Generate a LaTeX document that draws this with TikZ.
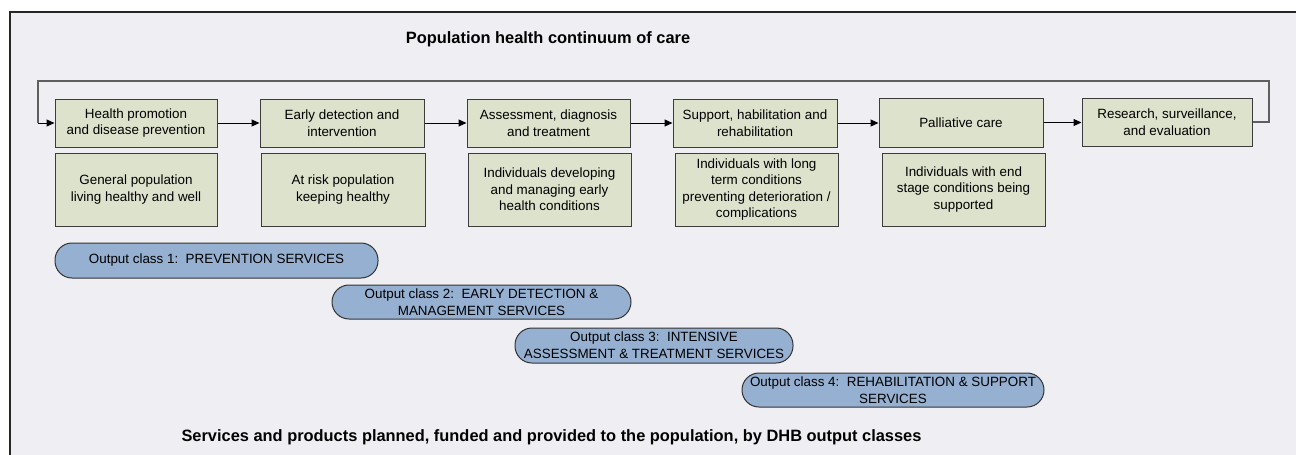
\documentclass[tikz,border=0pt]{standalone}
\usepackage{fontspec}
\setmainfont{Liberation Sans}
\usetikzlibrary{arrows.meta}
\definecolor{bgc}{RGB}{239,238,243}
\definecolor{boxfill}{RGB}{221,226,204}
\definecolor{boxline}{RGB}{60,60,60}
\definecolor{pillfill}{RGB}{149,176,208}
\definecolor{loopc}{RGB}{95,95,95}
\tikzset{
  stagebox/.style={draw=boxline, line width=1pt, fill=boxfill, inner sep=0pt, align=center,
    font=\fontsize{13.4}{16.6}\selectfont},
  pill/.style={draw=black!80, line width=1pt, fill=pillfill, inner sep=0pt, rounded corners=17pt, align=center,
    font=\fontsize{13.4}{16.6}\selectfont},
  heading/.style={font=\fontsize{16.4}{19}\selectfont\bfseries, inner sep=0pt},
  flow/.style={line width=1pt, -{Triangle[length=8pt,width=7pt]}},
  loopline/.style={draw=loopc, line width=1.3pt}
}
\begin{document}
\begin{tikzpicture}[x=1pt,y=-1pt]
\useasboundingbox (0,0) rectangle (1296,455);
\fill[bgc] (10,12) rectangle (1300,460);
\draw[line width=1.6pt, black!85] (10,460) -- (10,12) -- (1300,12);

\node[heading] (title) at (548,39) {Population health continuum of care};

% top row
\node[stagebox, minimum width=162pt, minimum height=48pt] (b1) at (136,123) {Health promotion\\and disease prevention};
\node[stagebox, minimum width=164pt, minimum height=48pt] (b2) at (342,123) {Early detection and\\intervention};
\node[stagebox, minimum width=163pt, minimum height=48pt] (b3) at (548.5,123) {Assessment, diagnosis\\and treatment};
\node[stagebox, minimum width=164pt, minimum height=48pt] (b4) at (755,123) {Support, habilitation and\\rehabilitation};
\node[stagebox, minimum width=164pt, minimum height=49pt] (b5) at (961,122.5) {Palliative care};
\node[stagebox, minimum width=170pt, minimum height=48pt] (b6) at (1167,122) {Research, surveillance,\\and evaluation};

% second row
\node[stagebox, minimum width=162pt, minimum height=73pt] (c1) at (136,189.5) {General population\\living healthy and well};
\node[stagebox, minimum width=164pt, minimum height=73pt] (c2) at (343,189.5) {At risk population\\keeping healthy};
\node[stagebox, minimum width=163pt, minimum height=73pt] (c3) at (549.5,189.5) {Individuals developing\\and managing early\\health conditions};
\node[stagebox, minimum width=163pt, minimum height=73pt] (c4) at (756.5,189.5) {Individuals with long\\term conditions\\preventing deterioration /\\complications};
\node[stagebox, minimum width=163pt, minimum height=73pt] (c5) at (963.5,189.5) {Individuals with end\\stage conditions being\\supported};

% arrows
\draw[flow] (b1.east) -- (b2.west);
\draw[flow] (b2.east) -- (b3.west);
\draw[flow] (b3.east) -- (b4.west);
\draw[flow] (b4.east) -- (b4.east -| b5.west);
\draw[flow] (b5.east) -- (b5.east -| b6.west);

% feedback loop
\coordinate (lr) at (1269,81);
\coordinate (ll) at (38,81);
\draw[loopline] (b6.east) -| (lr) -- (ll) -- (ll |- b1.west);
\draw[flow, draw=black] (ll |- b1.west) -- (b1.west);

% output classes
\node[pill, minimum width=323pt, minimum height=35pt] (p1) at (216.5,260.5) {Output class 1:\ \ PREVENTION SERVICES};
\node[pill, minimum width=299pt, minimum height=34pt] (p2) at (481.5,302) {Output class 2:\ \ EARLY DETECTION \&\\MANAGEMENT SERVICES};
\node[pill, minimum width=278pt, minimum height=35pt] (p3) at (654,345.5) {Output class 3:\ \ INTENSIVE\\ASSESSMENT \& TREATMENT SERVICES};
\node[pill, minimum width=302pt, minimum height=34pt] (p4) at (893,390) {Output class 4:\ \ REHABILITATION \& SUPPORT\\SERVICES};

\node[heading] (foot) at (551.5,437) {Services and products planned, funded and provided to the population, by DHB output classes};
\end{tikzpicture}
\end{document}
